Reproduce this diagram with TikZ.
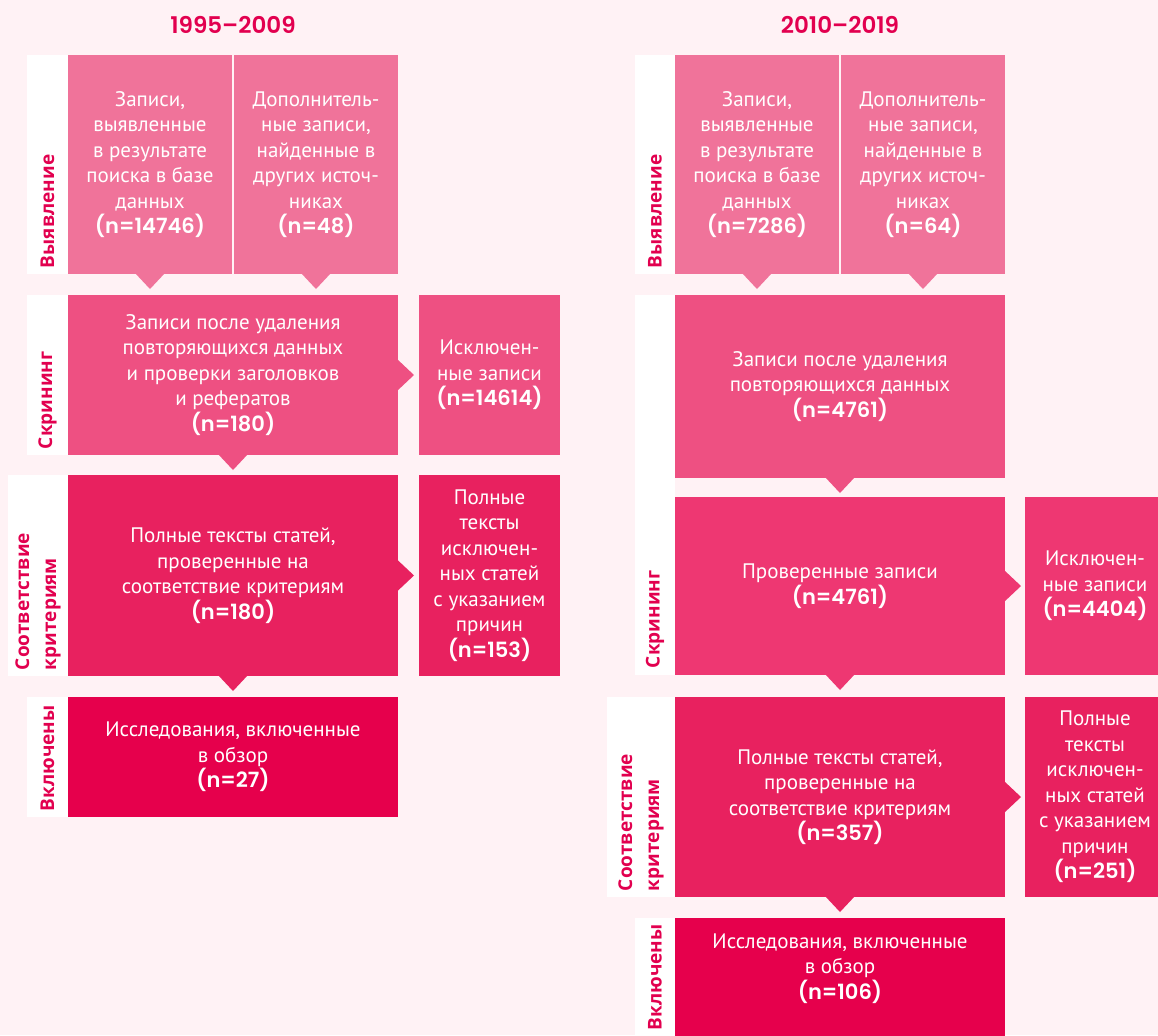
\documentclass[tikz,border=0pt]{standalone}
\usepackage{fontspec}
\setmainfont{PT Sans}
\newfontfamily\popfont{Poppins SemiBold}
\newfontfamily\tagfont{Open Sans}
\usepackage{tikz}
\usetikzlibrary{fit,calc}
\definecolor{prismaBg}{HTML}{FFF2F5}
\definecolor{prismaIdent}{HTML}{F0739A}
\definecolor{prismaScreen}{HTML}{EE5082}
\definecolor{prismaScreenDark}{HTML}{EE3772}
\definecolor{prismaElig}{HTML}{E8215F}
\definecolor{prismaIncl}{HTML}{E6004C}
\definecolor{prismaRed}{HTML}{E2004F}
\newcommand\txtfont{\fontsize{10.5}{12.75}\selectfont}
\newcommand\cnt[1]{{\popfont\fontsize{10.5}{12.75}\selectfont(n=#1)}}

\begin{document}
\begin{tikzpicture}[
    x=0.5pt, y=-0.5pt,
    every node/.style={inner sep=0pt, outer sep=0pt, align=center},
    strip/.style={fill=white},
    tag/.style={rotate=90, anchor=west, align=left, text=prismaRed, font=\tagfont\bfseries\fontsize{9.5}{13.5}\selectfont},
    head/.style={text=prismaRed, font=\popfont\fontsize{11.5}{14}\selectfont},
    stage/.style={fill=#1, text=white, font=\txtfont},
    half/.style={minimum width=82pt},
    main/.style={minimum width=165pt},
    side/.style={minimum width=70.5pt},
    notch/.style={fill=#1}
  ]
    \useasboundingbox (0,0) rectangle (1158,1035);
    \clip (0,0) rectangle (1158,1035);
    \fill[prismaBg] (0,0) rectangle (1158,1035);

    % 1995-2009
    \node[head] (h1) at (233,25) {1995–2009};
    \node[strip, fit={(27,55) (68,274)}] (s1l) {};
    \node[strip, fit={(27,295) (68,455)}] (s2l) {};
    \node[strip, fit={(8,475) (68,676)}] (s3l) {};
    \node[strip, fit={(27,697) (68,817)}] (s4l) {};
    \node[tag] (t1l) at ([yshift=3pt]s1l.south) {Выявление};
    \node[tag] (t2l) at ([yshift=3pt]s2l.south) {Скрининг};
    \node[tag] (t3l) at ([yshift=3pt]s3l.south) {Соответствие\\критериям};
    \node[tag] (t4l) at ([yshift=3pt]s4l.south) {Включены};

    \node[stage=prismaIdent, half, minimum height=109.5pt] (l1a) at (150,164.5) {Записи,\\выявленные\\в результате\\поиска в базе\\данных\\\cnt{14746}};
    \node[stage=prismaIdent, half, minimum height=109.5pt] (l1b) at (316,164.5) {Дополнитель-\\ные записи,\\найденные в\\других источ-\\никах\\\cnt{48}};
    \node[stage=prismaScreen, main, minimum height=80pt] (l2) at (233,375) {Записи после удаления\\повторяющихся данных\\и проверки заголовков\\и рефератов\\\cnt{180}};
    \node[stage=prismaScreen, side, minimum height=80pt] (l2x) at (489.5,375) {Исключен-\\ные записи\\\cnt{14614}};
    \node[stage=prismaElig, main, minimum height=100.5pt] (l3) at (233,575.5) {Полные тексты статей,\\проверенные на\\соответствие критериям\\\cnt{180}};
    \node[stage=prismaElig, side, minimum height=100.5pt] (l3x) at (489.5,575.5) {Полные\\тексты\\исключен-\\ных статей\\с указанием\\причин\\\cnt{153}};
    \node[stage=prismaIncl, main, minimum height=60pt] (l4) at (233,757) {Исследования, включенные\\в обзор\\\cnt{27}};

    \fill[notch=prismaIdent] ([xshift=-7.5pt,yshift=0.5pt]l1a.south) -- ([xshift=7.5pt,yshift=0.5pt]l1a.south) -- ([yshift=-7.5pt]l1a.south) -- cycle;
    \fill[notch=prismaIdent] ([xshift=-7.5pt,yshift=0.5pt]l1b.south) -- ([xshift=7.5pt,yshift=0.5pt]l1b.south) -- ([yshift=-7.5pt]l1b.south) -- cycle;
    \fill[notch=prismaScreen] ([xshift=-7.5pt,yshift=0.5pt]l2.south) -- ([xshift=7.5pt,yshift=0.5pt]l2.south) -- ([yshift=-7.5pt]l2.south) -- cycle;
    \fill[notch=prismaScreen] ([xshift=-0.5pt,yshift=8pt]l2.east) -- ([xshift=8pt]l2.east) -- ([xshift=-0.5pt,yshift=-8pt]l2.east) -- cycle;
    \fill[notch=prismaElig] ([xshift=-7.5pt,yshift=0.5pt]l3.south) -- ([xshift=7.5pt,yshift=0.5pt]l3.south) -- ([yshift=-7.5pt]l3.south) -- cycle;
    \fill[notch=prismaElig] ([xshift=-0.5pt,yshift=8pt]l3.east) -- ([xshift=8pt]l3.east) -- ([xshift=-0.5pt,yshift=-8pt]l3.east) -- cycle;

    % 2010-2019
    \node[head] (h2) at (840,25) {2010–2019};
    \node[strip, fit={(635,55) (675,274)}] (s1r) {};
    \node[strip, fit={(635,295) (675,675)}] (s2r) {};
    \node[strip, fit={(607,697) (675,897)}] (s3r) {};
    \node[strip, fit={(635,918) (675,1040)}] (s4r) {};
    \node[tag] (t1r) at ([yshift=3pt]s1r.south) {Выявление};
    \node[tag] (t2r) at ([yshift=3.5pt]s2r.south) {Скрининг};
    \node[tag] (t3r) at ([yshift=3pt]s3r.south) {Соответствие\\критериям};
    \node[tag] (t4r) at (655,1030) {Включены};

    \node[stage=prismaIdent, half, minimum height=109.5pt] (r1a) at (757,164.5) {Записи,\\выявленные\\в результате\\поиска в базе\\данных\\\cnt{7286}};
    \node[stage=prismaIdent, half, minimum height=109.5pt] (r1b) at (923,164.5) {Дополнитель-\\ные записи,\\найденные в\\других источ-\\никах\\\cnt{64}};
    \node[stage=prismaScreen, main, minimum height=91.5pt] (r2a) at (840,386.5) {Записи после удаления\\повторяющихся данных\\\cnt{4761}};
    \node[stage=prismaScreenDark, main, minimum height=89pt] (r2b) at (840,586) {Проверенные записи\\\cnt{4761}};
    \node[stage=prismaScreenDark, side, minimum height=89pt] (r2x) at (1095,586) {Исключен-\\ные записи\\\cnt{4404}};
    \node[stage=prismaElig, main, minimum height=100pt] (r3) at (840,797) {Полные тексты статей,\\проверенные на\\соответствие критериям\\\cnt{357}};
    \node[stage=prismaElig, side, minimum height=100pt] (r3x) at (1095,797) {Полные\\тексты\\исключен-\\ных статей\\с указанием\\причин\\\cnt{251}};
    \node[stage=prismaIncl, main, minimum height=60pt] (r4) at (840,978) {Исследования, включенные\\в обзор\\\cnt{106}\rule[-11.5pt]{0pt}{11.5pt}};

    \fill[notch=prismaIdent] ([xshift=-7.5pt,yshift=0.5pt]r1a.south) -- ([xshift=7.5pt,yshift=0.5pt]r1a.south) -- ([yshift=-7.5pt]r1a.south) -- cycle;
    \fill[notch=prismaIdent] ([xshift=-7.5pt,yshift=0.5pt]r1b.south) -- ([xshift=7.5pt,yshift=0.5pt]r1b.south) -- ([yshift=-7.5pt]r1b.south) -- cycle;
    \fill[notch=prismaScreen] ([xshift=-7.5pt,yshift=0.5pt]r2a.south) -- ([xshift=7.5pt,yshift=0.5pt]r2a.south) -- ([yshift=-7.5pt]r2a.south) -- cycle;
    \fill[notch=prismaScreenDark] ([xshift=-7.5pt,yshift=0.5pt]r2b.south) -- ([xshift=7.5pt,yshift=0.5pt]r2b.south) -- ([yshift=-7.5pt]r2b.south) -- cycle;
    \fill[notch=prismaScreenDark] ([xshift=-0.5pt,yshift=8pt]r2b.east) -- ([xshift=8pt]r2b.east) -- ([xshift=-0.5pt,yshift=-8pt]r2b.east) -- cycle;
    \fill[notch=prismaElig] ([xshift=-7.5pt,yshift=0.5pt]r3.south) -- ([xshift=7.5pt,yshift=0.5pt]r3.south) -- ([yshift=-7.5pt]r3.south) -- cycle;
    \fill[notch=prismaElig] ([xshift=-0.5pt,yshift=8pt]r3.east) -- ([xshift=8pt]r3.east) -- ([xshift=-0.5pt,yshift=-8pt]r3.east) -- cycle;
  \end{tikzpicture}
\end{document}
